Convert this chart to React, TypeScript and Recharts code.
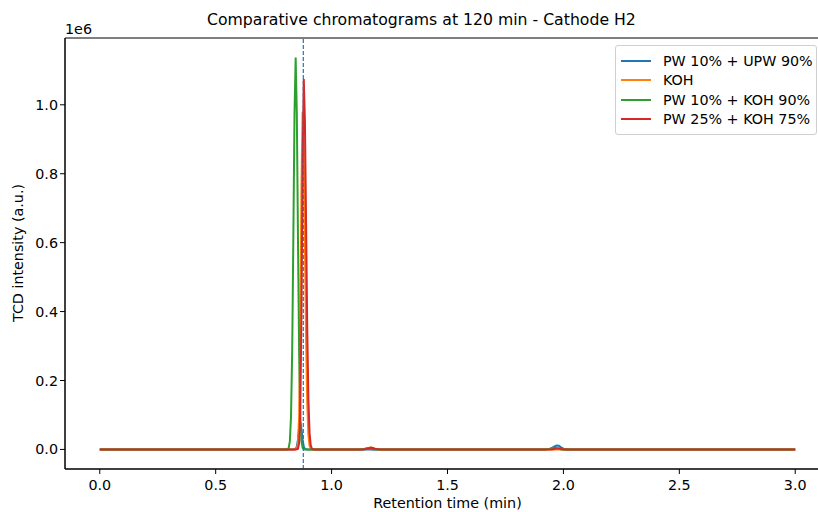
import React from 'react';
import { LineChart, Line, XAxis, YAxis, ReferenceLine, ReferenceArea, Legend } from 'recharts';

// retention time grid (min) - dense around the H2 peak, sparse elsewhere
const retentionTime = [
  0, 0.5, 0.795,
  0.8, 0.805, 0.81, 0.815, 0.82, 0.825, 0.83, 0.835, 0.84, 0.845, 0.85, 0.855, 0.86, 0.865,
  0.87, 0.875, 0.88, 0.885, 0.89, 0.895, 0.9, 0.905, 0.91, 0.915, 0.92, 0.925, 0.93,
  0.94, 1.0, 1.12, 1.14, 1.15, 1.16, 1.17, 1.18, 1.19, 1.21, 1.5,
  1.92, 1.94, 1.95, 1.96, 1.97, 1.98, 1.99, 2.0, 2.02, 2.5, 3.0,
];

const pwUpw = [
  0, 0, 0,
  0, 0, 0, 0, 0, 0, 0, 0, 130, 1320, 7850, 28100, 60500, 78000,
  60500, 28100, 7850, 1320, 130, 0, 0, 0, 0, 0, 0, 0, 0,
  0, 0, 0, 0, 0, 0, 0, 0, 0, 0, 0,
  0, 800, 3500, 8000, 11500, 10500, 6000, 2000, 0, 0, 0,
];

const koh = [
  0, 0, 0,
  0, 0, 0, 0, 0, 0, 0, 0, 10, 100, 1650, 16600, 98500, 353000,
  760000, 980000, 865000, 594000, 318000, 132000, 43000, 10900, 2140, 330, 36, 0, 0,
  0, 0, 0, 500, 2000, 4500, 6000, 4500, 1500, 0, 0,
  0, 0, 0, 0, 0, 0, 0, 0, 0, 0, 0,
];

const pwKoh10 = [
  0, 0, 0,
  4, 60, 600, 4400, 24000, 96000, 283000, 613000, 975000, 1137000, 975000, 613000, 283000, 96000,
  24000, 4400, 600, 60, 4, 0, 0, 0, 0, 0, 0, 0, 0,
  0, 0, 0, 1500, 3000, 2500, 1000, 0, 0, 0, 0,
  0, 1500, 4000, 5000, 3500, 1500, 0, 0, 0, 0, 0,
];

const pwKoh25 = [
  0, 0, 0,
  0, 0, 0, 0, 0, 0, 0, 0, 0, 10, 110, 1800, 18200, 108000,
  387000, 833000, 1075000, 949000, 652000, 349000, 145000, 47200, 11900, 2350, 360, 40, 0,
  0, 0, 0, 0, 1500, 3500, 4500, 3500, 1000, 0, 0,
  0, 0, 0, 1000, 3000, 3500, 1500, 0, 0, 0, 0,
];

const seriesNames = ['PW 10% + UPW 90%', 'KOH', 'PW 10% + KOH 90%', 'PW 25% + KOH 75%'];
const seriesColors = ['#1f77b4', '#ff7f0e', '#2ca02c', '#d62728'];
const seriesKeys = ['pwUpw', 'koh', 'pwKoh10', 'pwKoh25'];

const xTicks = [0, 0.5, 1.0, 1.5, 2.0, 2.5, 3.0];
const yTicks = [0, 200000, 400000, 600000, 800000, 1000000];
const markerTime = 0.878;

const data = retentionTime.map((t, i) => ({
  t,
  pwUpw: pwUpw[i],
  koh: koh[i],
  pwKoh10: pwKoh10[i],
  pwKoh25: pwKoh25[i],
}));

const yMax = 1137000;
const yDomain = [-0.05 * yMax, 1.05 * yMax];
const xDomain = [-0.15, 3.15];

const font = '"DejaVu Sans", sans-serif';
const fs = 14.3;

function LegendBox() {
  return (
    <div
      style={{
        border: '1px solid #d0d0d0',
        borderRadius: 3,
        background: 'rgba(255,255,255,0.8)',
        padding: '5px 6px 5px 5px',
        fontFamily: font,
        fontSize: fs,
        color: '#000',
        boxSizing: 'border-box',
      }}
    >
      {seriesNames.map((name, i) => (
        <div key={name} style={{ display: 'flex', alignItems: 'center', height: 19.5, whiteSpace: 'nowrap' }}>
          <span style={{ width: 30, height: 2, background: seriesColors[i], marginRight: 12, flex: 'none' }} />
          <span>{name}</span>
        </div>
      ))}
    </div>
  );
}

export default function App() {
  return (
    <div
      style={{
        position: 'fixed',
        left: 0,
        top: 0,
        width: 818,
        height: 512,
        overflow: 'hidden',
        background: '#fff',
        fontFamily: font,
      }}
    >
      <div style={{ position: 'absolute', left: 207, top: 10, fontSize: 15.7, color: '#000', whiteSpace: 'nowrap' }}>
        Comparative chromatograms at 120 min - Cathode H2
      </div>
      <div style={{ position: 'absolute', left: 65, top: 21, fontSize: fs, color: '#000' }}>1e6</div>
      <div
        style={{
          position: 'absolute',
          left: 18,
          top: 253,
          fontSize: fs,
          color: '#000',
          whiteSpace: 'nowrap',
          transform: 'translate(-50%, -50%) rotate(-90deg)',
        }}
      >
        TCD intensity (a.u.)
      </div>
      <LineChart
        width={840}
        height={512}
        data={data}
        margin={{ top: 38, right: 10, left: 0, bottom: 0 }}
      >
        <XAxis
          dataKey="t"
          type="number"
          domain={xDomain}
          ticks={xTicks}
          allowDataOverflow
          tickFormatter={(v: number) => v.toFixed(1)}
          height={43}
          stroke="#000"
          tickSize={5}
          tickMargin={6}
          tick={{ fill: '#000', fontSize: fs, fontFamily: font }}
          label={{ value: 'Retention time (min)', position: 'insideBottom', offset: 4, fill: '#000', fontSize: fs, fontFamily: font }}
        />
        <YAxis
          type="number"
          domain={yDomain}
          ticks={yTicks}
          allowDataOverflow
          tickFormatter={(v: number) => (v / 1e6).toFixed(1)}
          width={65}
          stroke="#000"
          tickSize={5}
          tick={{ fill: '#000', fontSize: fs, fontFamily: font }}
        />
        <ReferenceArea
          x1={xDomain[0]}
          x2={xDomain[1]}
          y1={yDomain[0]}
          y2={yDomain[1]}
          fill="none"
          stroke="#000"
          strokeWidth={1}
        />
        {seriesKeys.map((k, i) => (
          <Line
            key={k}
            dataKey={k}
            name={seriesNames[i]}
            stroke={seriesColors[i]}
            strokeWidth={2}
            dot={false}
            type="linear"
            isAnimationActive={false}
          />
        ))}
        <ReferenceLine x={markerTime} stroke="#1f77b4" strokeWidth={1.2} strokeDasharray="4 2" />
        <Legend
          layout="vertical"
          align="center"
          verticalAlign="middle"
          wrapperStyle={{ left: 615, top: 45, width: 202 }}
          content={() => <LegendBox />}
        />
      </LineChart>
    </div>
  );
}
